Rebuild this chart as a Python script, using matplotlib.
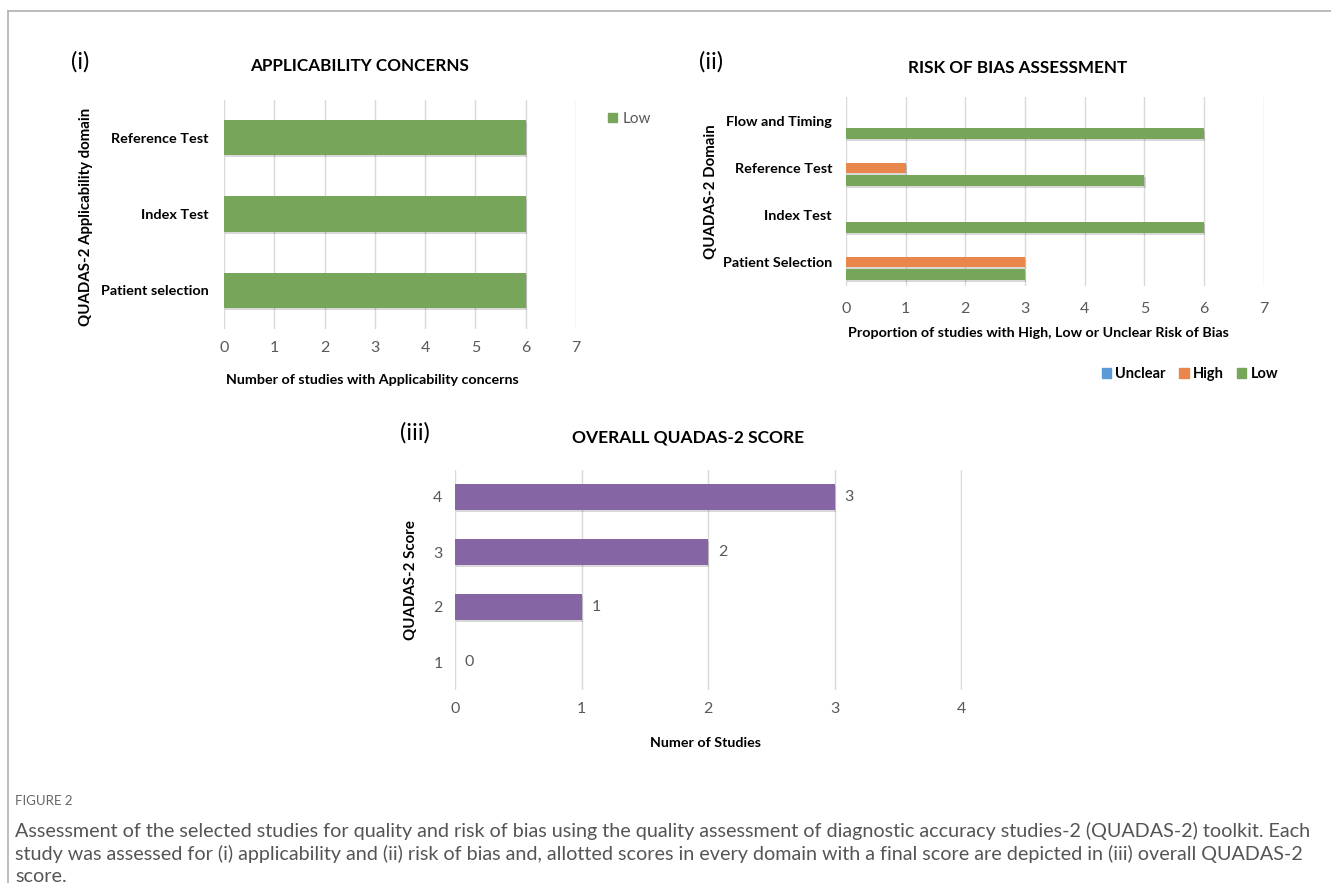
import matplotlib
matplotlib.use("Agg")
import matplotlib.pyplot as plt
import matplotlib.patheffects as pe
import numpy as np
from matplotlib.patches import Patch

plt.rcParams['font.family'] = ['Lato', 'DejaVu Sans']

# ---------------- data ----------------
appl_domains = ["Patient selection", "Index Test", "Reference Test"]
appl_low = [6, 6, 6]

rob_domains = ["Patient Selection", "Index Test", "Reference Test", "Flow and Timing"]
rob_unclear = [0, 0, 0, 0]
rob_high = [3, 0, 1, 0]
rob_low = [3, 6, 5, 6]

score_labels = ["1", "2", "3", "4"]
score_counts = [0, 1, 2, 3]

caption_head = "FIGURE 2"
caption_lines = [
    "Assessment of the selected studies for quality and risk of bias using the quality assessment of diagnostic accuracy studies-2 (QUADAS-2) toolkit. Each",
    "study was assessed for (i) applicability and (ii) risk of bias and, allotted scores in every domain with a final score are depicted in (iii) overall QUADAS-2",
    "score.",
]

GREEN = "#77a55a"
ORANGE = "#e8864b"
BLUE = "#5b9bd5"
PURPLE = "#8565a3"
GRID = "#d9d9d9"
TICK = "#595959"

W, H = 1331, 883
fig = plt.figure(figsize=(W / 100, H / 100), dpi=100)

shadow = [pe.SimplePatchShadow(offset=(0.8, -1.5), shadow_rgbFace="#000000", alpha=0.15), pe.Normal()]


def px_axes(x0, y0, x1, y1):
    """Axes from pixel box (left, top, right, bottom)."""
    return fig.add_axes([x0 / W, 1 - y1 / H, (x1 - x0) / W, (y1 - y0) / H])


def style(ax, xmax, xpad):
    ax.set_xlim(0, xmax + 0.004)
    ax.set_xticks(range(xmax + 1))
    for s in ax.spines.values():
        s.set_visible(False)
    ax.grid(axis="x", color=GRID, linewidth=1)
    ax.set_axisbelow(True)
    ax.tick_params(axis="x", length=0, pad=xpad, labelsize=11.5, labelcolor=TICK)
    ax.tick_params(axis="y", length=0)


def ftext(x, y, s, **kw):
    fig.text(x / W, 1 - y / H, s, **kw)


# ---------------- frame ----------------
fig.add_artist(plt.Line2D([8 / W, 8 / W], [0, 1 - 11 / H], color="#b0b0b0", lw=1.2))
fig.add_artist(plt.Line2D([8 / W, 1], [1 - 11 / H, 1 - 11 / H], color="#b0b0b0", lw=1.2))

# ---------------- (i) applicability ----------------
ax1 = px_axes(224, 99.5, 576, 328.5)
y1 = np.arange(len(appl_domains))
b = ax1.barh(y1, appl_low, height=0.46, color=GREEN)
for r in b:
    r.set_path_effects(shadow)
ax1.set_ylim(-0.5, len(appl_domains) - 0.5)
style(ax1, 7, 9)
ax1.set_yticks(y1)
ax1.set_yticklabels(appl_domains, fontsize=10.4, fontweight="bold")
ax1.tick_params(axis="y", pad=11)
ftext(80, 62, "(i)", fontsize=17, ha="center", va="center")
ftext(360, 66, "APPLICABILITY CONCERNS", fontsize=12.3, fontweight="bold", ha="center", va="center")
ftext(86, 217, "QUADAS-2 Applicability domain", fontsize=10.8, fontweight="bold",
      rotation=90, ha="center", va="center")
ftext(372, 380, "Number of studies with Applicability concerns", fontsize=10.3,
      fontweight="bold", ha="center", va="center")
fig.legend(handles=[Patch(color=GREEN, label="Low")], loc="center left",
           bbox_to_anchor=(594 / W, 1 - 119 / H), frameon=False, fontsize=11,
           handlelength=0.6, handleheight=0.6, handletextpad=0.35,
           labelcolor=TICK)

# ---------------- (ii) risk of bias ----------------
ax2 = px_axes(846, 97.5, 1264, 285.5)
y2 = np.arange(len(rob_domains))
bh = 0.23
step = 0.265
ax2.barh(y2 + step, rob_unclear, height=bh, color=BLUE)
ax2.barh(y2, rob_high, height=bh, color=ORANGE)
ax2.barh(y2 - step, rob_low, height=bh, color=GREEN)
for r in ax2.patches:
    r.set_path_effects(shadow)
ax2.set_ylim(-0.5, len(rob_domains) - 0.5)
style(ax2, 7, 12)
ax2.set_yticks(y2)
ax2.set_yticklabels(rob_domains, fontsize=10.4, fontweight="bold")
ax2.tick_params(axis="y", pad=10)
ftext(711, 62, "(ii)", fontsize=17, ha="center", va="center")
ftext(1018, 68, "RISK OF BIAS ASSESSMENT", fontsize=12.3, fontweight="bold", ha="center", va="center")
ftext(711, 192, "QUADAS-2 Domain", fontsize=10.8, fontweight="bold",
      rotation=90, ha="center", va="center")
ftext(1038, 333, "Proportion of studies with High, Low or Unclear Risk of Bias",
      fontsize=10.3, fontweight="bold", ha="center", va="center")
rob_handles = [Patch(color=BLUE, label="Unclear"),
               Patch(color=ORANGE, label="High"),
               Patch(color=GREEN, label="Low")]
fig.legend(handles=rob_handles, loc="center", bbox_to_anchor=(1190 / W, 1 - 374 / H), ncol=3,
           frameon=False, prop={"weight": "bold", "size": 10.5},
           handlelength=0.65, handleheight=0.65, handletextpad=0.3, columnspacing=0.9)

# ---------------- (iii) overall score ----------------
ax3 = px_axes(455, 469.5, 962, 689.5)
y3 = np.arange(len(score_labels))
bars = ax3.barh(y3, score_counts, height=0.47, color=PURPLE)
for r in bars:
    r.set_path_effects(shadow)
ax3.set_ylim(-0.5, len(score_labels) - 0.5)
style(ax3, 4, 9)
ax3.set_yticks(y3)
ax3.set_yticklabels(score_labels, fontsize=11.5, color=TICK)
ax3.tick_params(axis="y", pad=9)
ax3.bar_label(bars, labels=[str(v) for v in score_counts], padding=7,
              fontsize=11.5, color=TICK)
ftext(415, 433, "(iii)", fontsize=17, ha="center", va="center")
ftext(688, 437, "OVERALL QUADAS-2 SCORE", fontsize=12.5, fontweight="bold", ha="center", va="center")
ftext(411, 580, "QUADAS-2 Score", fontsize=10.8, fontweight="bold",
      rotation=90, ha="center", va="center")
ftext(706, 743, "Numer of Studies", fontsize=10.3, fontweight="bold", ha="center", va="center")

# ---------------- caption ----------------
ftext(15, 801, caption_head, fontsize=9.5, color="#666666", ha="left", va="center")
for i, line in enumerate(caption_lines):
    ftext(15, 831 + 23 * i, line, fontsize=14.2, color="#555555", ha="left", va="center")

fig.savefig("out.png", dpi=100)
